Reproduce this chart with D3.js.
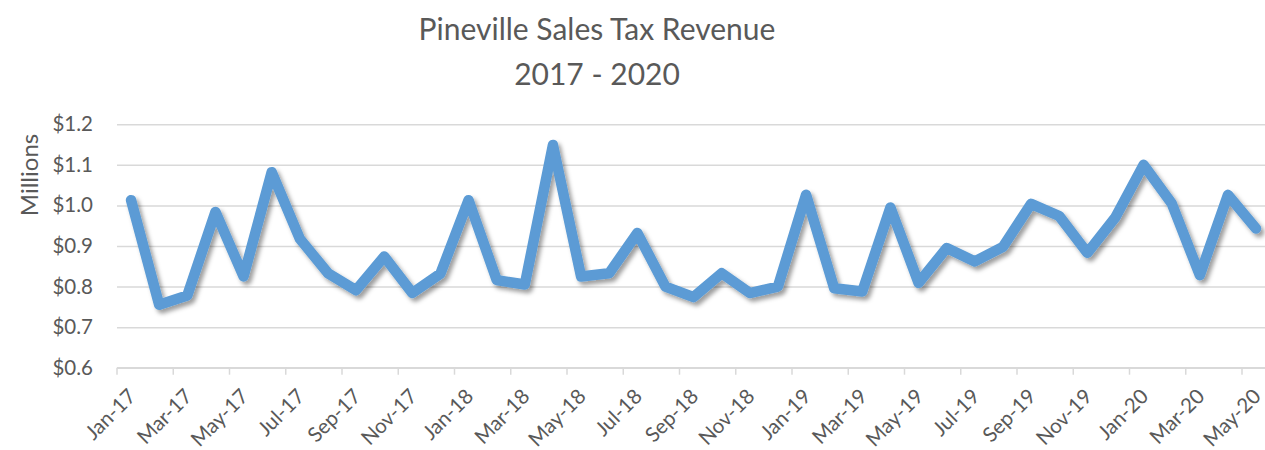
<!DOCTYPE html>
<html>
<head>
<meta charset="utf-8">
<script src="https://cdn.jsdelivr.net/npm/d3@7"></script>
<style>
  body { margin: 0; background: #fff; }
  text { font-family: Lato, "Open Sans", sans-serif; fill: #595959; }
</style>
</head>
<body>
<div id="grafico"></div>
<script>
var meses = ["Jan-17","Feb-17","Mar-17","Apr-17","May-17","Jun-17","Jul-17","Aug-17","Sep-17","Oct-17","Nov-17","Dec-17",
             "Jan-18","Feb-18","Mar-18","Apr-18","May-18","Jun-18","Jul-18","Aug-18","Sep-18","Oct-18","Nov-18","Dec-18",
             "Jan-19","Feb-19","Mar-19","Apr-19","May-19","Jun-19","Jul-19","Aug-19","Sep-19","Oct-19","Nov-19","Dec-19",
             "Jan-20","Feb-20","Mar-20","Apr-20","May-20"];

// receita em milhoes
var receita = [1.013, 0.755, 0.778, 0.984, 0.825, 1.082, 0.918, 0.833, 0.791, 0.874, 0.784, 0.832,
               1.013, 0.816, 0.805, 1.149, 0.825, 0.833, 0.932, 0.800, 0.774, 0.833, 0.784, 0.800,
               1.026, 0.796, 0.788, 0.995, 0.809, 0.895, 0.862, 0.898, 1.004, 0.974, 0.883, 0.971,
               1.100, 1.005, 0.828, 1.026, 0.943];

var y_ticks = [0.6, 0.7, 0.8, 0.9, 1.0, 1.1, 1.2];

var titulo = ["Pineville Sales Tax Revenue", "2017 - 2020"];

var width = 1265, height = 450;
var plot_left = 117, plot_top = 124.3, plot_bottom = 367.7;
var plot_w = 41 * 28.125;

var svg = d3.select("#grafico")
            .append("svg")
            .attr("width", width)
            .attr("height", height);

// sombra da linha
var filtro = svg.append("defs")
                .append("filter")
                .attr("id", "sombra")
                .attr("x", "-5%").attr("y", "-20%")
                .attr("width", "110%").attr("height", "140%");

filtro.append("feDropShadow")
      .attr("dx", 3)
      .attr("dy", 3.5)
      .attr("stdDeviation", 2.2)
      .attr("flood-color", "#000")
      .attr("flood-opacity", 0.38);

var x = d3.scaleBand()
          .domain(meses)
          .range([plot_left, plot_left + plot_w])
          .padding(0);

var y = d3.scaleLinear()
          .domain([0.6, 1.2])
          .range([plot_bottom, plot_top]);

// grade
var grade = svg.append("g")
               .attr("transform", "translate(" + plot_left + ",0)")
               .call(d3.axisLeft(y).tickValues(y_ticks).tickSize(-plot_w).tickFormat(""));

grade.select(".domain").remove();
grade.selectAll("line")
     .style("stroke", "#d9d9d9")
     .style("stroke-width", 1.5);

// eixo y
var eixo_y = svg.append("g")
                .attr("transform", "translate(" + (plot_left - 8) + ",0)")
                .call(d3.axisLeft(y).tickValues(y_ticks).tickSize(0).tickPadding(16)
                        .tickFormat(function(d){ return "$" + d.toFixed(1); }));

eixo_y.select(".domain").remove();
eixo_y.selectAll("text")
      .style("font-size", "20.5px")
      .style("font-family", "Lato, sans-serif")
      .attr("fill", "#595959");

// eixo x - marcas nas bordas das categorias, a cada 2 meses
var marcas = meses.filter(function(d, i){ return i % 2 == 0; });

var eixo_x = svg.append("g")
                .attr("transform", "translate(0," + plot_bottom + ")");

eixo_x.append("line")
      .attr("x1", plot_left)
      .attr("x2", plot_left + plot_w)
      .style("stroke", "#d9d9d9")
      .style("stroke-width", 1.5);

eixo_x.selectAll(".marca")
      .data(marcas)
      .enter()
      .append("line")
      .attr("class", "marca")
      .attr("x1", function(d){ return x(d); })
      .attr("x2", function(d){ return x(d); })
      .attr("y1", 0)
      .attr("y2", 7)
      .style("stroke", "#d9d9d9")
      .style("stroke-width", 1.5);

eixo_x.selectAll(".rotulo")
      .data(marcas)
      .enter()
      .append("text")
      .attr("class", "rotulo")
      .attr("text-anchor", "end")
      .attr("transform", function(d){
          return "translate(" + (x(d) + x.bandwidth() / 2 + 6) + ",30) rotate(-45)";
      })
      .style("font-size", "20.5px")
      .text(function(d){ return d; });

// linha
var linha = d3.line()
              .x(function(d, i){ return x(meses[i]) + x.bandwidth() / 2; })
              .y(function(d){ return y(d); });

svg.append("path")
   .datum(receita)
   .attr("d", linha)
   .attr("fill", "none")
   .style("stroke", "#5b9bd5")
   .style("stroke-width", 10.5)
   .style("stroke-linejoin", "round")
   .style("stroke-linecap", "round")
   .attr("filter", "url(#sombra)");

// titulo
svg.selectAll(".titulo")
   .data(titulo)
   .enter()
   .append("text")
   .attr("class", "titulo")
   .attr("x", 597)
   .attr("y", function(d, i){ return 40 + i * 45; })
   .attr("text-anchor", "middle")
   .style("font-size", "30px")
   .text(function(d){ return d; });

svg.append("text")
   .attr("transform", "translate(38,175) rotate(-90)")
   .attr("text-anchor", "middle")
   .style("font-size", "24px")
   .text("Millions");
</script>
</body>
</html>
